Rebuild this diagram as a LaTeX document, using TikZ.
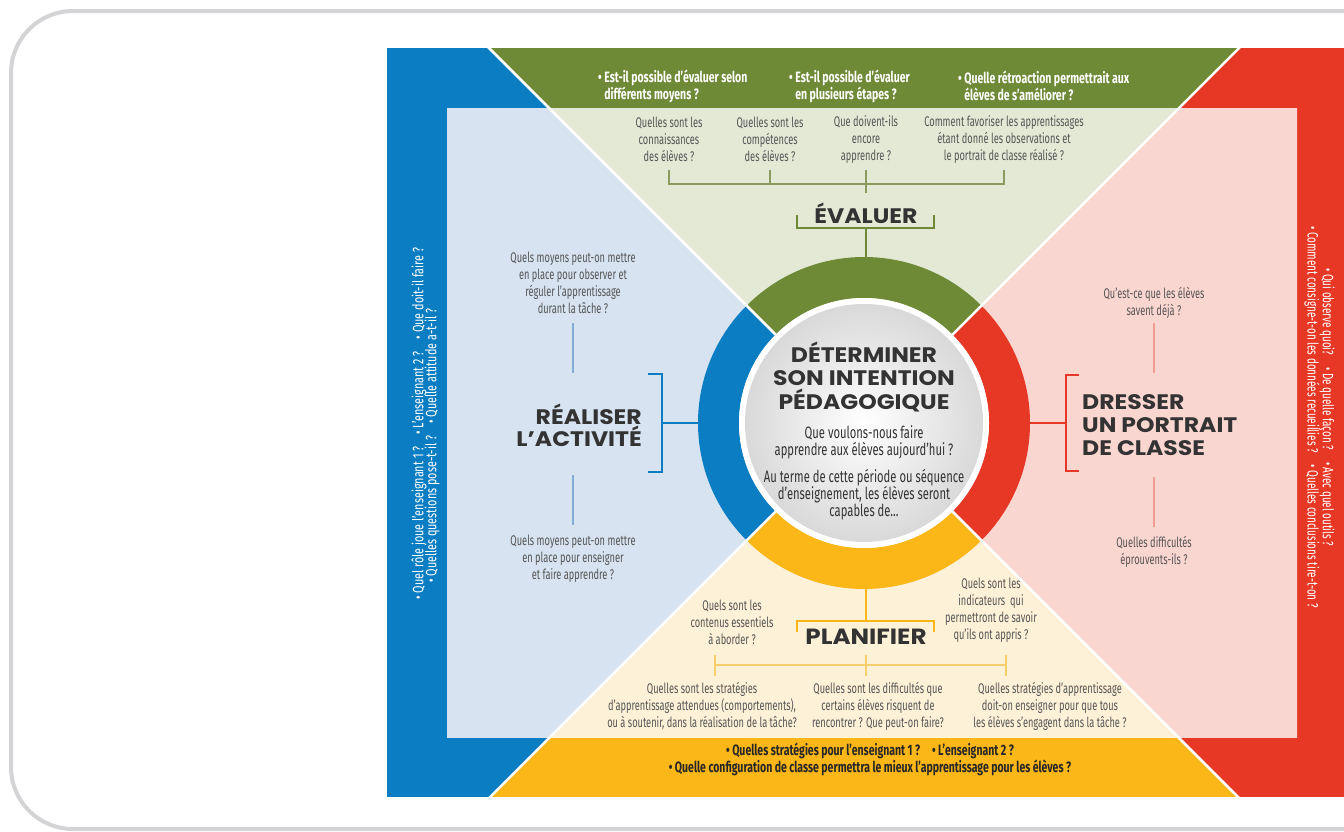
\documentclass[tikz,border=0pt]{standalone}
\usepackage{fontspec}
\usetikzlibrary{calc}
\setmainfont{Fira Sans}
\newfontfamily\cond[FakeStretch=0.66]{Fira Sans}
\newfontfamily\condb[FakeStretch=0.70]{Fira Sans}
\newfontfamily\condc[FakeStretch=0.68]{Fira Sans}
\newfontfamily\condl[FakeStretch=0.72]{Fira Sans}
\newfontfamily\headf[FakeStretch=1.12]{Poppins}
\definecolor{bandblue}{HTML}{0B7DC3}
\definecolor{bandgreen}{HTML}{6F8A36}
\definecolor{bandred}{HTML}{E73725}
\definecolor{bandyellow}{HTML}{FBB618}
\definecolor{panblue}{HTML}{D7E3F1}
\definecolor{pangreen}{HTML}{E4E9D6}
\definecolor{panred}{HTML}{FAD6D0}
\definecolor{panyellow}{HTML}{FDF1D7}
\definecolor{qtext}{HTML}{555555}
\definecolor{htext}{HTML}{333333}
\definecolor{framegray}{HTML}{D4D4D6}
\definecolor{lineblue}{HTML}{86ACD4}
\definecolor{linegreen}{HTML}{8C9C5E}
\definecolor{linered}{HTML}{EE9E92}
\definecolor{lineyellow}{HTML}{F7CE6C}
\definecolor{diskedge}{HTML}{D9D9D9}
\tikzset{
  q/.style={font=\cond\fontsize{14}{17}\selectfont, text=qtext, align=center, inner sep=0pt},
  ctext/.style={font=\condc\fontsize{16.5}{17}\selectfont, text=htext, align=center, inner sep=0pt},
  bandtxt/.style={font=\condb\bfseries\fontsize{15}{14}\selectfont, text=white, align=left, inner sep=0pt},
  sidetxtl/.style={font=\condl\fontsize{15}{13}\selectfont, text=white, inner sep=0pt},
  sidetxtr/.style={font=\cond\fontsize{15}{13}\selectfont, text=white, inner sep=0pt},
  bottxt/.style={font=\condb\bfseries\fontsize{15}{15}\selectfont, text=black!85, align=center, inner sep=0pt},
  head/.style={font=\headf\bfseries\fontsize{21}{23}\selectfont, text=htext, inner sep=0pt},
  thin/.style={line width=1.2pt},
  thick/.style={line width=2.5pt},
}
\begin{document}
\begin{tikzpicture}[x=1pt,y=-1pt]
\useasboundingbox (0,0) rectangle (1344,831);
\fill[white] (0,0) rectangle (1344,831);
\draw[framegray, line width=4pt, rounded corners=62pt] (11,11) rectangle (1420,829);

\coordinate (C) at (864,423);
% outer bands
\begin{scope}
  \clip (387,48) rectangle (1357,796);
  \fill[bandblue] (C) -- ++(-1000,-1000) -- ++(0,2000) -- cycle;
  \fill[bandgreen] (C) -- ++(-1000,-1000) -- ++(2000,0) -- cycle;
  \fill[bandred] (C) -- ++(1000,-1000) -- ++(0,2000) -- cycle;
  \fill[bandyellow] (C) -- ++(-1000,1000) -- ++(2000,0) -- cycle;
\end{scope}
% inner panels
\begin{scope}
  \clip (447,108) rectangle (1297,737);
  \fill[panblue] (C) -- ++(-1000,-1000) -- ++(0,2000) -- cycle;
  \fill[pangreen] (C) -- ++(-1000,-1000) -- ++(2000,0) -- cycle;
  \fill[panred] (C) -- ++(1000,-1000) -- ++(0,2000) -- cycle;
  \fill[panyellow] (C) -- ++(-1000,1000) -- ++(2000,0) -- cycle;
\end{scope}

% ring
\fill[bandgreen] ($(C)+(225:166)$) arc[start angle=225,end angle=315,radius=166] -- ($(C)+(315:125)$) arc[start angle=315,end angle=225,radius=125] -- cycle;
\fill[bandblue] ($(C)+(135:166)$) arc[start angle=135,end angle=225,radius=166] -- ($(C)+(225:125)$) arc[start angle=225,end angle=135,radius=125] -- cycle;
\fill[bandyellow] ($(C)+(45:166)$) arc[start angle=45,end angle=135,radius=166] -- ($(C)+(135:125)$) arc[start angle=135,end angle=45,radius=125] -- cycle;
\fill[bandred] ($(C)+(-45:166)$) arc[start angle=-45,end angle=45,radius=166] -- ($(C)+(45:125)$) arc[start angle=45,end angle=-45,radius=125] -- cycle;

% white diagonals
\begin{scope}
  \clip (387,48) rectangle (1357,796);
  \coordinate (dTL) at ($(C)+(-1000,-1000)$);
  \coordinate (dTR) at ($(C)+(1000,-1000)$);
  \coordinate (dBL) at ($(C)+(-1000,1000)$);
  \coordinate (dBR) at ($(C)+(1000,1000)$);
  \draw[white, line width=2.5pt] (C) -- (dTL) (C) -- (dTR) (C) -- (dBL) (C) -- (dBR);
\end{scope}

% disk
\fill[white] (C) circle[radius=125];
\shade[inner color=white, outer color=diskedge] (C) circle[radius=119];

% center text
\node[head, align=center, font=\headf\bfseries\fontsize{21}{23.5}\selectfont] (det) at (864,377) {DÉTERMINER\\SON INTENTION\\PÉDAGOGIQUE};
\node[ctext] (que) at (864,442) {Que voulons-nous faire\\apprendre aux élèves aujourd’hui ?};
\node[ctext] (auterme) at (864,495) {Au terme de cette période ou séquence\\d’enseignement, les élèves seront\\capables de...};

% ---- top band text
\node[bandtxt, anchor=west] (t1) at (598,86) {• Est-il possible d’évaluer selon\\\phantom{• }différents moyens ?};
\node[bandtxt, anchor=west] (t2) at (789,86) {• Est-il possible d’évaluer\\\phantom{• }en plusieurs étapes ?};
\node[bandtxt, anchor=west] (t3) at (958,86) {• Quelle rétroaction permettrait aux\\\phantom{• }élèves de s’améliorer ?};

% ---- green panel
\node[q] (g1) at (669,139.5) {Quelles sont les\\connaissances\\des élèves ?};
\node[q] (g2) at (770,139.5) {Quelles sont les\\compétences\\des élèves ?};
\node[q] (g3) at (866,139.5) {Que doivent-ils\\encore\\apprendre ?};
\node[q] (g4) at (1004,139.5) {Comment favoriser les apprentissages\\étant donné les observations et\\le portrait de classe réalisé ?};
\coordinate (gh1) at (669,184); \coordinate (gh4) at (1004,184);
\coordinate (gv1) at (669,170); \coordinate (gv2) at (770,170); \coordinate (gv3) at (866,170); \coordinate (gv4) at (1004,170);
\coordinate (gb2) at (770,184); \coordinate (gb3) at (866,193);
\draw[linegreen, thin] (gv1) -- (gh1) -- (gh4) -- (gv4) (gv2) -- (gb2) (gv3) -- (gb3);

\node[head, font=\headf\bfseries\fontsize{21}{21}\selectfont] (eval) at (866,213) {ÉVALUER};
\coordinate (eb1) at (797,215); \coordinate (eb2) at (797,228); \coordinate (eb3) at (934,228); \coordinate (eb4) at (934,215);
\coordinate (es1) at (866,228); \coordinate (es2) at (866,258);
\draw[bandgreen, thick] (eb1) -- (eb2) -- (eb3) -- (eb4) (es1) -- (es2);

% ---- left panel
\node[q] (l1) at (573,282.5) {Quels moyens peut-on mettre\\en place pour observer et\\réguler l’apprentissage\\durant la tâche ?};
\node[q] (l2) at (573,559) {Quels moyens peut-on mettre\\en place pour enseigner\\et faire apprendre ?};
\coordinate (lv1) at (573,323); \coordinate (lv2) at (573,373);
\coordinate (lv3) at (573,475); \coordinate (lv4) at (573,525);
\draw[lineblue, thin] (lv1) -- (lv2) (lv3) -- (lv4);
\node[head, align=right, anchor=east, font=\headf\bfseries\fontsize{21}{20}\selectfont] (real) at (642,425) {RÉALISER\\L’ACTIVITÉ};
\coordinate (lb1) at (648,374); \coordinate (lb2) at (662,374); \coordinate (lb3) at (662,472); \coordinate (lb4) at (648,472);
\coordinate (ls1) at (662,423); \coordinate (ls2) at (699,423);
\draw[bandblue, thick] (lb1) -- (lb2) -- (lb3) -- (lb4) (ls1) -- (ls2);

% ---- right panel
\node[q] (r1) at (1154,302.5) {Qu’est-ce que les élèves\\savent déjà ?};
\node[q] (r2) at (1154,551.5) {Quelles difficultés\\éprouvents-ils ?};
\coordinate (rv1) at (1154,323); \coordinate (rv2) at (1154,373);
\coordinate (rv3) at (1154,477); \coordinate (rv4) at (1154,527);
\draw[linered, thin] (rv1) -- (rv2) (rv3) -- (rv4);
\node[head, align=left, anchor=west, font=\headf\bfseries\fontsize{21}{23}\selectfont] (dress) at (1082,425) {DRESSER\\UN PORTRAIT\\DE CLASSE};
\coordinate (rb1) at (1079,375); \coordinate (rb2) at (1066,375); \coordinate (rb3) at (1066,471); \coordinate (rb4) at (1079,471);
\coordinate (rs1) at (1029,423); \coordinate (rs2) at (1066,423);
\draw[bandred, thick] (rb1) -- (rb2) -- (rb3) -- (rb4) (rs1) -- (rs2);

% ---- bottom panel
\node[q] (b1) at (732,622.5) {Quels sont les\\contenus essentiels\\à aborder ?};
\node[q] (b2) at (991,610.5) {Quels sont les\\indicateurs\ \ qui\\permettront de savoir\\qu’ils ont appris ?};
\node[head, font=\headf\bfseries\fontsize{22}{22}\selectfont] (plan) at (866,637) {PLANIFIER};
\coordinate (pb1) at (797,632); \coordinate (pb2) at (797,621); \coordinate (pb3) at (934,621); \coordinate (pb4) at (934,632);
\coordinate (ps1) at (866,588); \coordinate (ps2) at (866,621);
\draw[bandyellow, thick] (pb1) -- (pb2) -- (pb3) -- (pb4) (ps1) -- (ps2);
\coordinate (ph1) at (715,665); \coordinate (ph2) at (1006,665);
\coordinate (pt1a) at (715,655); \coordinate (pt1b) at (715,676);
\coordinate (pt2a) at (866,655); \coordinate (pt2b) at (866,676);
\coordinate (pt3a) at (1006,655); \coordinate (pt3b) at (1006,676);
\draw[lineyellow, thin] (ph1) -- (ph2) (pt1a) -- (pt1b) (pt2a) -- (pt2b) (pt3a) -- (pt3b);
\node[q] (b3) at (702,706) {Quelles sont les stratégies\\d’apprentissage attendues (comportements),\\ou à soutenir, dans la réalisation de la tâche?};
\node[q] (b4) at (878,706) {Quelles sont les difficultés que\\certains élèves risquent de\\rencontrer ? Que peut-on faire?};
\node[q] (b5) at (1050,706) {Quelles stratégies d’apprentissage\\doit-on enseigner pour que tous\\les élèves s’engagent dans la tâche ?};

% ---- yellow band
\node[bottxt] (y1) at (870,759.5) {• Quelles stratégies pour l’enseignant 1 ?\hspace{12pt}• L’enseignant 2 ?\\• Quelle configuration de classe permettra le mieux l’apprentissage pour les élèves ?};

% ---- side bands
\node[sidetxtl, rotate=90, anchor=west] (s1) at (419,600) {• Quel rôle joue l’enseignant 1 ?\hspace{12pt}• L’enseignant 2 ?\hspace{12pt}• Que doit-il faire ?};
\node[sidetxtl, rotate=90, anchor=west] (s2) at (432,583) {• Quelles questions pose-t-il ?\hspace{12pt}• Quelle attitude a-t-il ?};
\node[sidetxtr, rotate=-90, anchor=west] (s3) at (1327,268) {• Qui observe quoi?\hspace{12pt}• De quelle façon ?\hspace{12pt}• Avec quel outils ?};
\node[sidetxtr, rotate=-90, anchor=west] (s4) at (1312,226) {• Comment consigne-t-on les données recueillies ?\hspace{12pt}• Quelles conclusions tire-t-on ?};
\end{tikzpicture}
\end{document}
